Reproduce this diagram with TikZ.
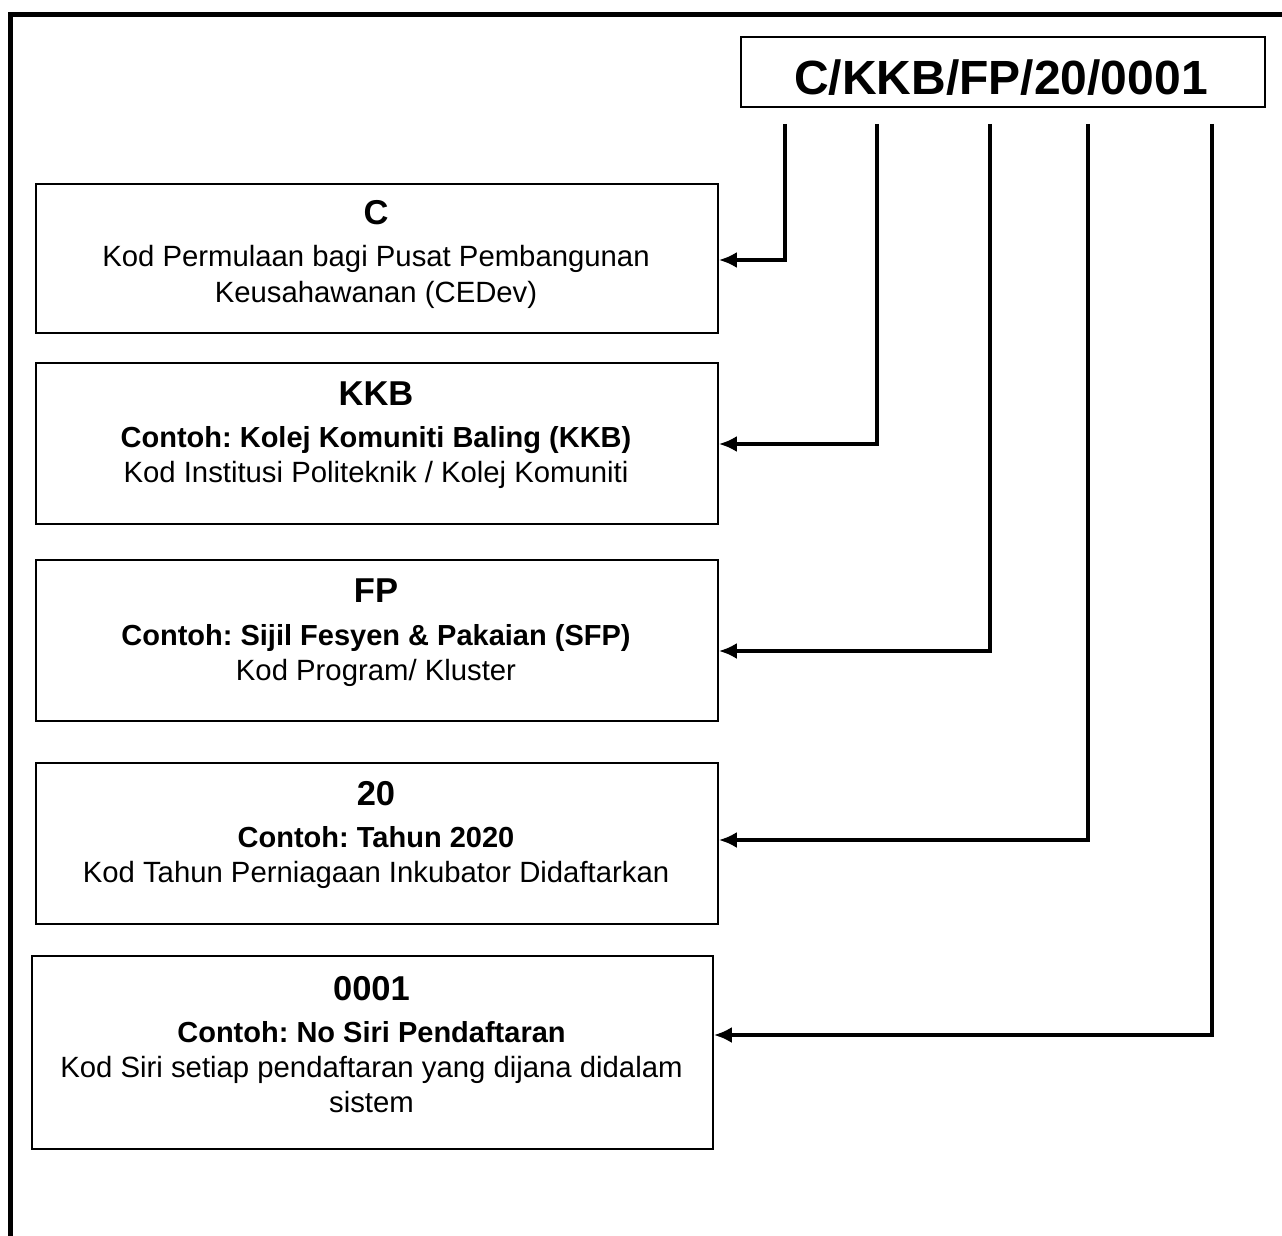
\documentclass[tikz,border=0pt]{standalone}
\usepackage{fontspec}
\setmainfont{Liberation Sans}
\usetikzlibrary{arrows.meta,calc}
\begin{document}
\frenchspacing
\begin{tikzpicture}[x=1pt,y=-1pt,
  box/.style={draw,line width=1.8pt,anchor=north west,inner sep=0pt},
  hdr/.style={anchor=base,inner sep=0pt,font=\fontsize{34.5}{40}\selectfont\bfseries},
  ex/.style={anchor=base,inner sep=0pt,font=\fontsize{29}{34}\selectfont\bfseries},
  desc/.style={anchor=base,inner sep=0pt,font=\fontsize{29.3}{34}\selectfont},
  conn/.style={line width=4pt,-{Latex[length=18pt,width=16pt]}},
  frame/.style={line width=5pt}]
\useasboundingbox (0,0) rectangle (1282,1236);
% outer frame
\draw[frame] (10.5,1236) -- (10.5,14.5) -- (1282,14.5);
% code box
\node[box,minimum width=524pt,minimum height=70pt] (code) at (740,36) {};
\node[anchor=center,inner sep=0pt,font=\fontsize{48}{56}\selectfont\bfseries] (codetxt) at (1001,78) {C/KKB/FP/20/0001};
% boxes
\node[box,minimum width=682pt,minimum height=149pt] (bc) at (35,183) {};
\node[box,minimum width=682pt,minimum height=161pt] (bkkb) at (35,362) {};
\node[box,minimum width=682pt,minimum height=161pt] (bfp) at (35,559) {};
\node[box,minimum width=682pt,minimum height=161pt] (byr) at (35,762) {};
\node[box,minimum width=681pt,minimum height=193pt] (bno) at (31,955) {};
% texts
\node[hdr] (c1) at (376,224) {C};
\node[desc] (c2) at (376,266) {Kod Permulaan bagi Pusat Pembangunan};
\node[desc] (c3) at (376,302) {Keusahawanan (CEDev)};
\node[hdr] (k1) at (376,405) {KKB};
\node[ex] (k2) at (376,447) {Contoh: Kolej Komuniti Baling (KKB)};
\node[desc] (k3) at (376,482) {Kod Institusi Politeknik / Kolej Komuniti};
\node[hdr] (f1) at (376,602) {FP};
\node[ex] (f2) at (376,645) {Contoh: Sijil Fesyen \& Pakaian (SFP)};
\node[desc] (f3) at (376,680) {Kod Program/ Kluster};
\node[hdr] (y1) at (376,805) {20};
\node[ex] (y2) at (376,847) {Contoh: Tahun 2020};
\node[desc] (y3) at (376,882) {Kod Tahun Perniagaan Inkubator Didaftarkan};
\node[hdr] (n1) at (371.5,1000) {0001};
\node[ex] (n2) at (371.5,1042) {Contoh: No Siri Pendaftaran};
\node[desc] (n3) at (371.5,1077) {Kod Siri setiap pendaftaran yang dijana didalam};
\node[desc] (n4) at (371.5,1112) {sistem};
% connectors
\coordinate (t1) at (785,124);
\coordinate (t2) at (877,124);
\coordinate (t3) at (990,124);
\coordinate (t4) at (1088,124);
\coordinate (t5) at (1212,124);
\draw[conn] (t1) |- (bc.east |- 0,260);
\draw[conn] (t2) |- (bkkb.east |- 0,444);
\draw[conn] (t3) |- (bfp.east |- 0,651);
\draw[conn] (t4) |- (byr.east |- 0,840);
\draw[conn] (t5) |- (bno.east |- 0,1035);
\end{tikzpicture}
\end{document}
